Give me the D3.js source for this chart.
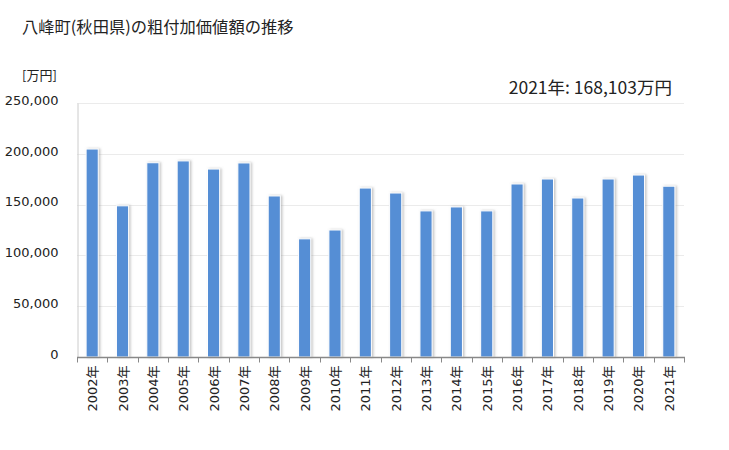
<!DOCTYPE html>
<html>
<head>
<meta charset="utf-8">
<script src="https://d3js.org/d3.v7.min.js"></script>
<style>
  body { margin: 0; background: #fff; }
  text { font-family: "DejaVu Sans", "Noto Sans CJK JP", sans-serif; fill: #222; }
</style>
</head>
<body>
<svg width="729" height="450"></svg>
<script>
// data (万円)
var years = ["2002年","2003年","2004年","2005年","2006年","2007年","2008年","2009年","2010年","2011年",
             "2012年","2013年","2014年","2015年","2016年","2017年","2018年","2019年","2020年","2021年"];
var values = [204700,148800,191200,193000,185000,191000,158500,116300,125000,166300,
              161400,143800,147700,143800,170300,175200,156500,175200,179100,168103];
var yTicks = [0,50000,100000,150000,200000,250000];

var svg = d3.select("svg");
var margin = {left: 77, right: 45, top: 103, bottom: 93};
var w = 729 - margin.left - margin.right;
var h = 450 - margin.top - margin.bottom;

var x = d3.scaleBand().domain(years).range([margin.left, margin.left + w]).paddingInner(0.6).paddingOuter(0.3);
var y = d3.scaleLinear().domain([0, 250000]).range([margin.top + h, margin.top]);

var defs = svg.append("defs");
var f = defs.append("filter").attr("id", "shadow").attr("x", "-50%").attr("width", "200%");
f.append("feDropShadow").attr("dx", 1.5).attr("dy", 0).attr("stdDeviation", 1)
  .attr("flood-color", "#888").attr("flood-opacity", 0.5);

// title
svg.append("text").attr("x", 22).attr("y", 33)
  .style("font-family", "'Noto Sans CJK JP', sans-serif").style("font-size", "16.3px")
  .text("八峰町(秋田県)の粗付加価値額の推移");
svg.append("text").attr("x", 22).attr("y", 80)
  .style("font-family", "'Noto Sans CJK JP', sans-serif").style("font-size", "13px")
  .text("[万円]");
svg.append("text").attr("x", 672).attr("y", 94).attr("text-anchor", "end")
  .style("font-family", "'Noto Sans CJK JP', sans-serif").style("font-size", "17.5px")
  .text("2021年: 168,103万円");

// grid
svg.append("g").selectAll("line").data(yTicks.slice(1)).join("line")
  .attr("x1", margin.left).attr("x2", margin.left + w)
  .attr("y1", d => Math.round(y(d)) + 0.5).attr("y2", d => Math.round(y(d)) + 0.5)
  .style("stroke", "#ebebeb");

// y axis
var yAxis = svg.append("g").attr("transform", `translate(${margin.left + 0.5},0)`)
  .call(d3.axisLeft(y).tickValues(yTicks).tickSize(0).tickPadding(8).tickFormat(d3.format(",")));
yAxis.select(".domain").style("stroke", "#cccccc");
yAxis.selectAll("text").style("font-size", "13px").attr("dy", "0.1em").attr("x", -19);

// bars
var bw = x.bandwidth();
svg.append("g").selectAll("rect").data(values).join("rect")
  .attr("x", (d, i) => x(years[i]))
  .attr("y", d => y(d))
  .attr("width", bw)
  .attr("height", d => y(0) - y(d))
  .style("fill", "#558ed5")
  .style("stroke", "#ffffff")
  .style("stroke-width", 1)
  .attr("filter", "url(#shadow)");

// x axis
var xg = svg.append("g").attr("transform", `translate(0,${margin.top + h + 0.5})`);
xg.append("line").attr("x1", margin.left).attr("x2", margin.left + w + 1)
  .style("stroke", "#888888").style("stroke-width", 1.5);
var bounds = d3.range(years.length + 1).map(i => margin.left + i * (w / years.length));
xg.selectAll(".tk").data(bounds).join("line").attr("class", "tk")
  .attr("x1", d => Math.round(d) + 0.5).attr("x2", d => Math.round(d) + 0.5)
  .attr("y1", 0).attr("y2", 5).style("stroke", "#888888");
xg.selectAll(".lb").data(years).join("text").attr("class", "lb")
  .attr("transform", d => `translate(${x(d) + bw / 2 + 5},8) rotate(-90)`)
  .attr("text-anchor", "end")
  .style("font-size", "13px")
  .text(d => d);
</script>
</body>
</html>
